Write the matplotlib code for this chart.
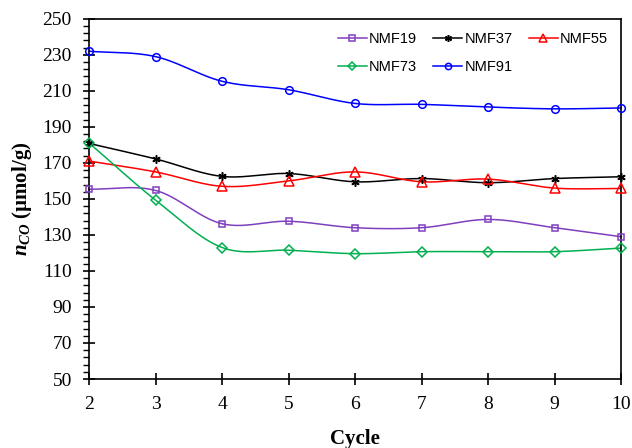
import numpy as np
import matplotlib
matplotlib.use("Agg")
from matplotlib import pyplot as plt
from matplotlib.ticker import MultipleLocator, FixedLocator

plt.rcParams["mathtext.fontset"] = "custom"
plt.rcParams["mathtext.it"] = "Liberation Serif:italic:bold"
plt.rcParams["mathtext.rm"] = "Liberation Serif:bold"
plt.rcParams["mathtext.bf"] = "Liberation Serif:bold"

cycles = [2, 3, 4, 5, 6, 7, 8, 9, 10]
nmf19 = [155.4, 154.7, 136.2, 137.6, 134.0, 134.0, 138.6, 134.0, 129.0]
nmf37 = [180.8, 172.2, 162.5, 164.1, 159.5, 161.3, 159.0, 161.3, 162.3]
nmf55 = [171.0, 165.0, 157.0, 160.0, 165.0, 159.5, 161.0, 156.0, 155.8]
nmf73 = [181.0, 149.3, 123.0, 121.5, 119.6, 120.7, 120.7, 120.7, 122.7]
nmf91 = [232.0, 229.0, 215.3, 210.6, 203.0, 202.5, 201.0, 200.0, 200.5]

names = ["NMF19", "NMF37", "NMF55", "NMF73", "NMF91"]
series = [nmf19, nmf37, nmf55, nmf73, nmf91]
colors = ["#7F3FBF", "#000000", "#FF0000", "#00B050", "#0000FF"]
markers = ["s", (6, 2, 0), "^", "D", "o"]
msizes = [5, 6, 6.5, 5, 5.5]


def smooth(x, y, n=30):
    # catmull-rom style curve through the points, like Excel smoothed lines
    x = np.asarray(x, float)
    y = np.asarray(y, float)
    px = np.concatenate([[2 * x[0] - x[1]], x, [2 * x[-1] - x[-2]]])
    py = np.concatenate([[2 * y[0] - y[1]], y, [2 * y[-1] - y[-2]]])
    xs, ys = [], []
    t = np.linspace(0, 1, n)
    for i in range(1, len(px) - 2):
        for p, out in ((px, xs), (py, ys)):
            p0, p1, p2, p3 = p[i - 1], p[i], p[i + 1], p[i + 2]
            out.extend(0.5 * ((2 * p1) + (-p0 + p2) * t
                              + (2 * p0 - 5 * p1 + 4 * p2 - p3) * t ** 2
                              + (-p0 + 3 * p1 - 3 * p2 + p3) * t ** 3))
    return xs, ys


fig = plt.figure(figsize=(6.32, 4.48), dpi=100)
ax = fig.add_axes([0.141, 0.154, 0.842, 0.804])

handles = {}
for name, vals, c, m, ms in zip(names, series, colors, markers, msizes):
    sx, sy = smooth(cycles, vals)
    ax.plot(sx, sy, color=c, lw=1.1, clip_on=False)
    ax.plot(cycles, vals, ls="none", marker=m, ms=ms, mfc="none", mec=c, mew=1.1,
            clip_on=False, zorder=3)
    handles[name], = ax.plot([], [], color=c, lw=1.1, marker=m, ms=ms - 1, mfc="none",
                             mec=c, mew=1.1)

ax.set_xlim(2, 10)
ax.set_ylim(50, 250)
ax.xaxis.set_major_locator(MultipleLocator(1))
ax.yaxis.set_major_locator(FixedLocator(np.arange(50, 251, 20)))
ax.yaxis.set_minor_locator(FixedLocator(np.arange(50, 251, 4)))
ax.tick_params(axis="both", which="major", direction="inout", length=9, width=1.2,
               labelsize=14)
ax.tick_params(axis="y", which="major", pad=8)
ax.tick_params(axis="x", which="major", pad=8)
ax.tick_params(axis="y", which="minor", direction="out", length=4, width=1)
for lbl in ax.get_xticklabels() + ax.get_yticklabels():
    lbl.set_family("Liberation Serif")
for s in ax.spines.values():
    s.set_linewidth(1.2)

ax.set_xlabel("Cycle", family="Liberation Serif", fontsize=15, fontweight="bold",
              labelpad=11)
ax.set_ylabel(r"$n_{CO}$ (µmol/g)", family="Liberation Serif",
              fontsize=15, fontweight="bold", labelpad=6)

order = ["NMF19", "NMF73", "NMF37", "NMF91", "NMF55"]
ax.legend([handles[k] for k in order], order, loc="upper right", ncol=3, frameon=False,
          prop={"family": "Liberation Sans", "size": 10.5},
          handlelength=2.0, handletextpad=0.15, columnspacing=1.1,
          labelspacing=0.95, bbox_to_anchor=(1.0, 1.0), borderaxespad=0.5)

plt.savefig("out.png", dpi=100)
plt.close(fig)
